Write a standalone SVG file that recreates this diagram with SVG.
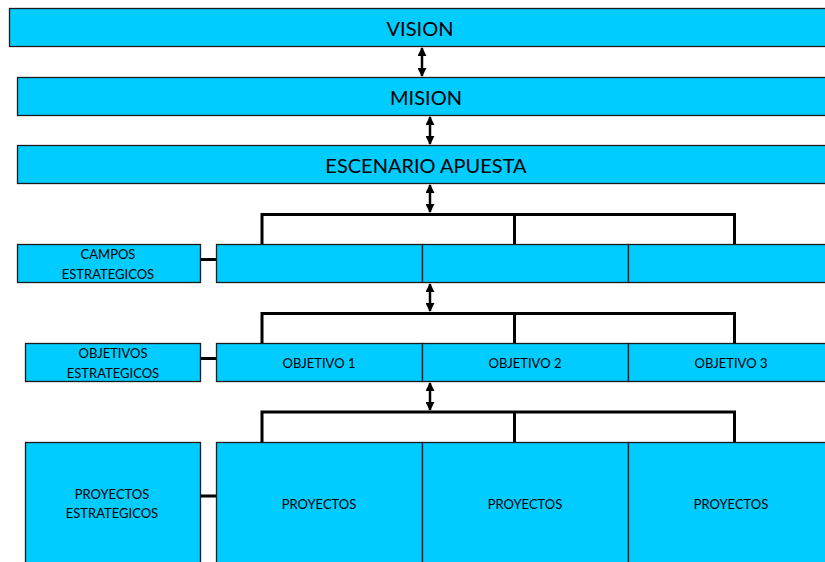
<svg xmlns="http://www.w3.org/2000/svg" width="825" height="562" viewBox="0 0 825 562">
<defs>
<style>
.box{fill:#00CCFF;stroke:#1a1a1a;stroke-width:1.3}
.big{font-family:Lato,"Open Sans",sans-serif;font-size:20px;fill:#000;text-anchor:middle;dominant-baseline:central}
.sm{font-family:Lato,"Open Sans",sans-serif;font-size:13px;fill:#000;text-anchor:middle;dominant-baseline:central}
.br{fill:none;stroke:#000;stroke-width:3}
.ar{stroke:#000;stroke-width:2.5;marker-start:url(#ah);marker-end:url(#ah)}
</style>
<marker id="ah" viewBox="0 0 10 10" refX="9" refY="5" markerWidth="3.6" markerHeight="3.6" orient="auto-start-reverse" markerUnits="strokeWidth">
<path d="M0,0 L10,5 L0,10 z" fill="#000"/>
</marker>
</defs>
<rect width="825" height="562" fill="#fff"/>
<g id="vision"><rect class="box" x="9.5" y="8.5" width="830" height="38"/><text class="big" x="420" y="28">VISION</text></g>
<g id="mision"><rect class="box" x="17.5" y="77.5" width="820" height="38"/><text class="big" x="426" y="97">MISION</text></g>
<g id="escenario"><rect class="box" x="17.5" y="145.5" width="820" height="38"/><text class="big" x="426" y="165">ESCENARIO APUESTA</text></g>
<g id="campos-label"><rect class="box" x="17.5" y="244.5" width="183" height="38"/><text class="sm" x="108" y="254">CAMPOS</text><text class="sm" x="108" y="274">ESTRATEGICOS</text></g>
<g id="campos-1"><rect class="box" x="216.5" y="244.5" width="206" height="38"/></g>
<g id="campos-2"><rect class="box" x="422.5" y="244.5" width="206" height="38"/></g>
<g id="campos-3"><rect class="box" x="628.5" y="244.5" width="210" height="38"/></g>
<g id="objetivos-label"><rect class="box" x="25.5" y="343.5" width="175" height="38"/><text class="sm" x="113" y="353">OBJETIVOS</text><text class="sm" x="113" y="373">ESTRATEGICOS</text></g>
<g id="objetivo-1"><rect class="box" x="216.5" y="343.5" width="206" height="38"/><text class="sm" x="319" y="363">OBJETIVO 1</text></g>
<g id="objetivo-2"><rect class="box" x="422.5" y="343.5" width="206" height="38"/><text class="sm" x="525" y="363">OBJETIVO 2</text></g>
<g id="objetivo-3"><rect class="box" x="628.5" y="343.5" width="210" height="38"/><text class="sm" x="731" y="363">OBJETIVO 3</text></g>
<g id="proyectos-label"><rect class="box" x="25.5" y="442.5" width="175" height="130"/><text class="sm" x="112" y="494">PROYECTOS</text><text class="sm" x="112" y="513">ESTRATEGICOS</text></g>
<g id="proyectos-1"><rect class="box" x="216.5" y="442.5" width="206" height="130"/><text class="sm" x="319" y="504">PROYECTOS</text></g>
<g id="proyectos-2"><rect class="box" x="422.5" y="442.5" width="206" height="130"/><text class="sm" x="525" y="504">PROYECTOS</text></g>
<g id="proyectos-3"><rect class="box" x="628.5" y="442.5" width="210" height="130"/><text class="sm" x="731" y="504">PROYECTOS</text></g>
<g id="connectors">
<line class="ar" x1="422" y1="48" x2="422" y2="76"/>
<line class="ar" x1="430" y1="117" x2="430" y2="144"/>
<line class="ar" x1="430" y1="185" x2="430" y2="212"/>
<line class="ar" x1="430" y1="284" x2="430" y2="311"/>
<line class="ar" x1="430" y1="383" x2="430" y2="410"/>
<path class="br" d="M262,244 V214.5 H734.5 V244 M514.5,214.5 V244"/>
<path class="br" d="M262,343 V313.5 H734.5 V343 M514.5,313.5 V343"/>
<path class="br" d="M262,442 V412 H734.5 V442 M514.5,412 V442"/>
<line class="br" x1="201" y1="259.5" x2="216" y2="259.5"/>
<line class="br" x1="201" y1="358.5" x2="216" y2="358.5"/>
<line class="br" x1="201" y1="496" x2="216" y2="496"/>
</g>
</svg>
